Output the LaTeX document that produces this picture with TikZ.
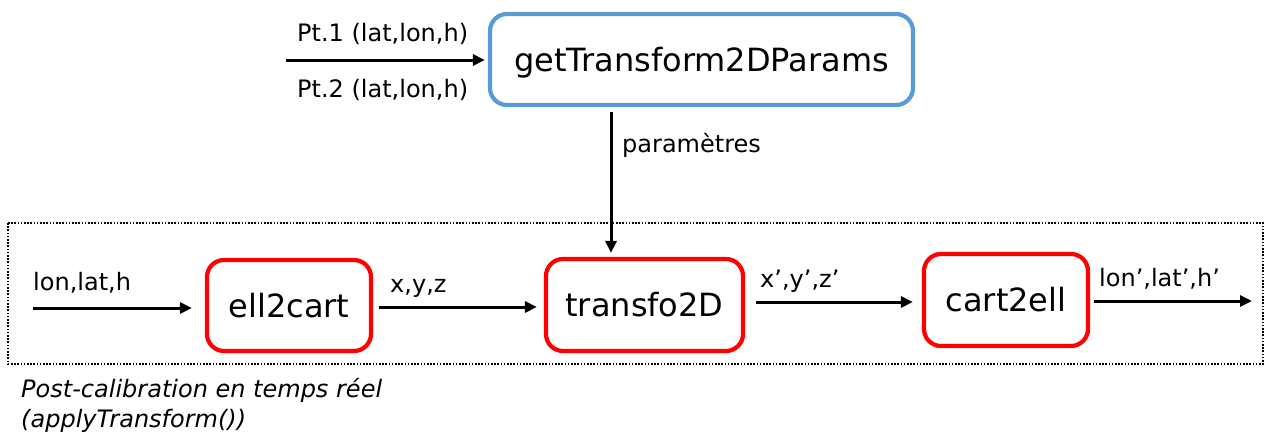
\documentclass[tikz,border=0pt]{standalone}
\usepackage{fontspec}
\setmainfont{DejaVu Sans}
\usetikzlibrary{arrows.meta}
\definecolor{boxblue}{HTML}{5B9BD5}
\definecolor{boxred}{HTML}{FF0000}
\tikzset{
  fnbox/.style={draw, rounded corners=17pt, line width=4.2pt, inner sep=0pt,
    font=\fontsize{32}{38}\selectfont, text height=23.4pt, text depth=0pt, fill=white},
  redbox/.style={fnbox, draw=boxred},
  bluebox/.style={fnbox, draw=boxblue},
  arr/.style={line width=3pt, -{Triangle[length=12pt,width=11pt]}},
  lbl/.style={font=\fontsize{24}{28}\selectfont, anchor=base west, inner sep=0pt},
  captext/.style={font=\fontsize{24}{30}\selectfont\itshape, anchor=base west, inner sep=0pt},
  framebox/.style={line width=1.6pt, dash pattern=on 1.6pt off 1.6pt}
}
\begin{document}
\begin{tikzpicture}[x=1pt,y=-1pt]
\useasboundingbox (0,0) rectangle (1266,439);
% frame
\draw[framebox] (8,223) rectangle (1263,364);
% nodes
\node[bluebox, minimum width=423pt, minimum height=91pt] (gt) at (701.5,59.5) {getTransform2DParams};
\node[redbox, minimum width=164pt, minimum height=91pt] (e2c) at (289,305.5) {ell2cart};
\node[redbox, minimum width=197pt, minimum height=92pt] (t2d) at (644.5,305) {transfo2D};
\node[redbox, minimum width=164pt, minimum height=92pt] (c2e) at (1006,300) {cart2ell};
% free ends
\coordinate (pin) at (286,60);
\coordinate (lin) at (33,308);
\coordinate (vx) at (611,0);
\coordinate (mid) at (0,302);
\coordinate (low) at (0,307);
\coordinate (out) at (1252,301);
% connectors
\draw[arr, shorten >=3pt] (pin) -- (gt.west |- pin);
\draw[arr, shorten <=5pt, shorten >=4pt] (gt.south -| vx) -- (t2d.north -| vx);
\draw[arr, shorten >=13pt] (lin) -- (e2c.west |- lin);
\draw[arr, shorten <=6pt, shorten >=7pt] (e2c.east |- low) -- (t2d.west |- low);
\draw[arr, shorten <=11pt, shorten >=9pt] (t2d.east |- mid) -- (c2e.west |- mid);
\draw[arr, shorten <=4pt] (c2e.east |- out) -- (out);
% labels
\node[lbl] (l1) at (297,41) {Pt.1 (lat,lon,h)};
\node[lbl] (l2) at (297,97) {Pt.2 (lat,lon,h)};
\node[lbl] (lp) at (622,152) {paramètres};
\node[lbl] (l3) at (33,290) {lon,lat,h};
\node[lbl] (l4) at (390,292) {x,y,z};
\node[lbl] (l5) at (760,287) {x’,y’,z’};
\node[lbl] (l6) at (1099,286) {lon’,lat’,h’};
\node[captext] (c1) at (21,397) {Post-calibration en temps réel};
\node[captext] (c2) at (21,427) {(applyTransform())};
\end{tikzpicture}
\end{document}
